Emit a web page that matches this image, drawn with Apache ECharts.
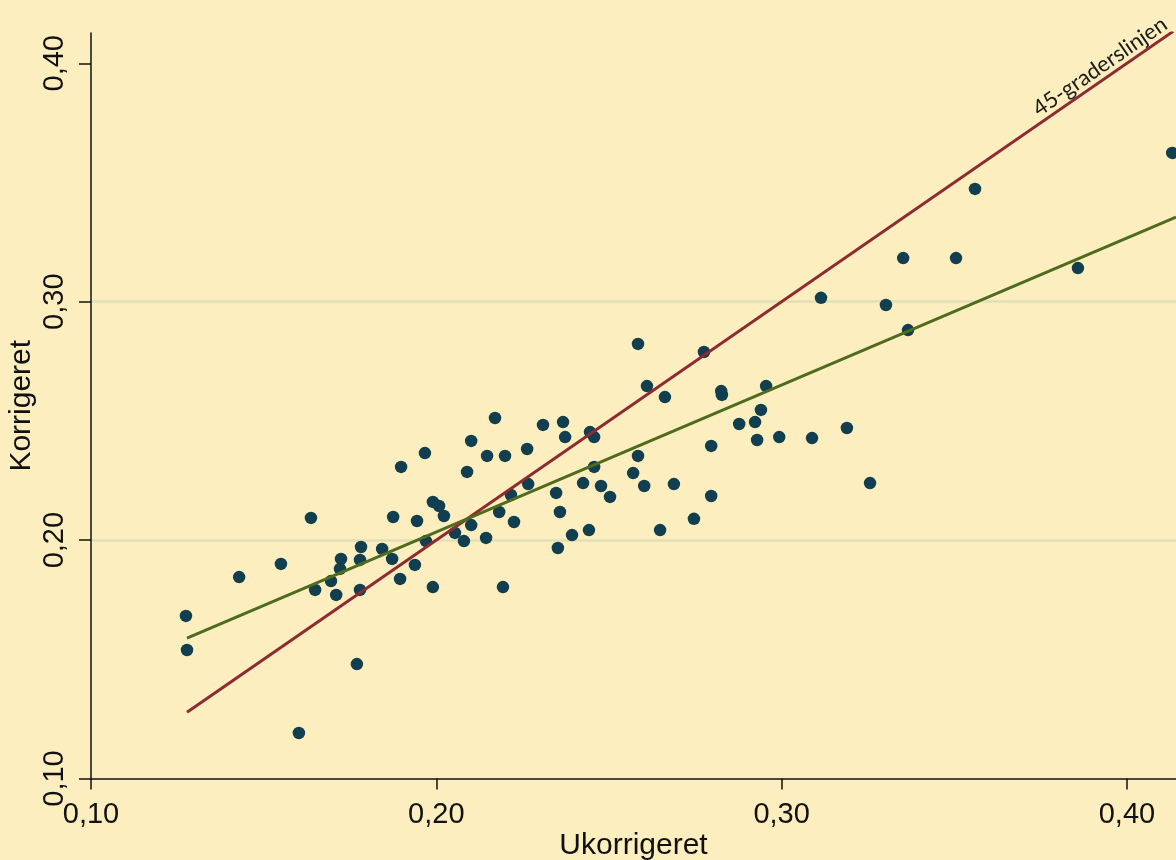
<!DOCTYPE html>
<html>
<head>
<meta charset="utf-8">
<script src="https://cdn.jsdelivr.net/npm/echarts@6/dist/echarts.min.js"></script>
<style>
  html, body { margin: 0; padding: 0; background: #fdeebf; }
  #chart { width: 1176px; height: 860px; }
</style>
</head>
<body>
<div id="chart"></div>
<script>
// ukorrigeret / korrigeret
var ukorrigeret = [0.1275, 0.1278, 0.1429, 0.1550, 0.1637, 0.1649, 0.1695, 0.1710, 0.1724, 0.1721,
  0.1770, 0.1602, 0.1782, 0.1779, 0.1779, 0.1843, 0.1872, 0.1875, 0.1895, 0.1898,
  0.1938, 0.1944, 0.1967, 0.1970, 0.1990, 0.1990, 0.2008, 0.2022, 0.2054, 0.2080,
  0.2089, 0.2101, 0.2101, 0.2144, 0.2147, 0.2170, 0.2182, 0.2193, 0.2199, 0.2216,
  0.2225, 0.2263, 0.2266, 0.2309, 0.2347, 0.2358, 0.2352, 0.2367, 0.2373, 0.2393,
  0.2425, 0.2442, 0.2445, 0.2457, 0.2457, 0.2477, 0.2503, 0.2570, 0.2584, 0.2584,
  0.2602, 0.2610, 0.2648, 0.2662, 0.2688, 0.2746, 0.2775, 0.2796, 0.2796, 0.2825,
  0.2827, 0.2877, 0.2923, 0.2929, 0.2940, 0.2955, 0.2993, 0.3088, 0.3114, 0.3189,
  0.3256, 0.3302, 0.3352, 0.3366, 0.3505, 0.3560, 0.3858, 0.4131];
var korrigeret = [0.1682, 0.1539, 0.1845, 0.1900, 0.2093, 0.1791, 0.1828, 0.1770, 0.1921, 0.1879,
  0.1480, 0.1191, 0.1971, 0.1917, 0.1791, 0.1963, 0.1921, 0.2097, 0.1837, 0.2307,
  0.1896, 0.2080, 0.2365, 0.1996, 0.2160, 0.1803, 0.2143, 0.2101, 0.2030, 0.1996,
  0.2286, 0.2416, 0.2063, 0.2009, 0.2353, 0.2512, 0.2118, 0.1803, 0.2353, 0.2189,
  0.2076, 0.2382, 0.2235, 0.2483, 0.2198, 0.2118, 0.1967, 0.2495, 0.2432, 0.2021,
  0.2239, 0.2042, 0.2453, 0.2432, 0.2307, 0.2227, 0.2181, 0.2281, 0.2823, 0.2353,
  0.2227, 0.2646, 0.2042, 0.2600, 0.2235, 0.2089, 0.2789, 0.2395, 0.2185, 0.2625,
  0.2609, 0.2487, 0.2495, 0.2420, 0.2546, 0.2646, 0.2432, 0.2428, 0.3016, 0.2470,
  0.2239, 0.2986, 0.3183, 0.2881, 0.3183, 0.3473, 0.3141, 0.3624];

// 45-degree line and fitted line endpoints
var line45 = [[0.1278, 0.1278], [0.4134, 0.4134]];
var fitLine = [[0.1278, 0.1589], [0.4142, 0.3355]];
var line45Label = '45-graderslinjen';
var line45LabelAt = [0.3922, 0.3986];

var tickValues = [0.1, 0.2, 0.3, 0.4];
var xMin = 0.1, xMax = 0.4142;
var yMin = 0.1, yMax = 0.4127;

var ink = '#111111';
var dot = '#123f4f';
var red = '#8e2b30';
var green = '#4e6b1e';
var grid = '#e1dfb6';

function fmt(v) { return v.toFixed(2).replace('.', ','); }

var points = ukorrigeret.map(function(u, i) { return [u, korrigeret[i]]; });

var chart = echarts.init(document.getElementById('chart'), null, { renderer: 'canvas' });
chart.setOption({
  animation: false,
  backgroundColor: '#fdeebf',
  grid: { left: 91, right: 0, top: 33, bottom: 81.5, outerBoundsMode: 'none', containLabel: false },
  xAxis: {
    type: 'value',
    min: xMin,
    max: xMax,
    name: 'Ukorrigeret',
    nameLocation: 'middle',
    nameGap: 52,
    nameMoveOverlap: false,
    nameTextStyle: { color: ink, fontSize: 30, fontFamily: 'Liberation Sans' },
    axisLine: { lineStyle: { color: ink, width: 1.5 } },
    axisTick: { customValues: tickValues, length: 11, lineStyle: { color: ink, width: 1.5 } },
    axisLabel: {
      customValues: tickValues,
      color: ink, fontSize: 29, fontFamily: 'Liberation Sans', margin: 22,
      formatter: fmt
    },
    splitLine: { show: false }
  },
  yAxis: {
    type: 'value',
    min: yMin,
    max: yMax,
    name: 'Korrigeret',
    nameLocation: 'middle',
    nameRotate: 90,
    nameGap: 54,
    nameMoveOverlap: false,
    nameTextStyle: { color: ink, fontSize: 30, fontFamily: 'Liberation Sans' },
    axisLine: { show: true, lineStyle: { color: ink, width: 1.5 } },
    axisTick: { show: true, customValues: tickValues, length: 12, lineStyle: { color: ink, width: 1.5 } },
    axisLabel: {
      customValues: tickValues,
      rotate: 90,
      color: ink, fontSize: 29, fontFamily: 'Liberation Sans', margin: 22,
      formatter: fmt
    },
    splitLine: { show: true, showMinLine: false, showMaxLine: false, lineStyle: { color: grid, width: 2.5 } }
  },
  series: [
    {
      type: 'line',
      data: line45,
      symbol: 'none',
      lineStyle: { color: red, width: 3 },
      z: 3,
      markPoint: {
        symbol: 'circle',
        symbolSize: 0,
        silent: true,
        data: [{ coord: line45LabelAt }],
        label: {
          show: true,
          position: 'inside',
          rotate: 34.6,
          formatter: line45Label,
          color: '#1a1a1a',
          fontSize: 22,
          fontFamily: 'Lato'
        }
      }
    },
    {
      type: 'line',
      data: fitLine,
      symbol: 'none',
      lineStyle: { color: green, width: 3 },
      z: 3
    },
    {
      type: 'scatter',
      data: points,
      symbol: 'circle',
      symbolSize: 12.5,
      itemStyle: { color: dot, opacity: 1 },
      z: 2
    }
  ]
});
window.addEventListener('resize', function() { chart.resize(); });
</script>
</body>
</html>
